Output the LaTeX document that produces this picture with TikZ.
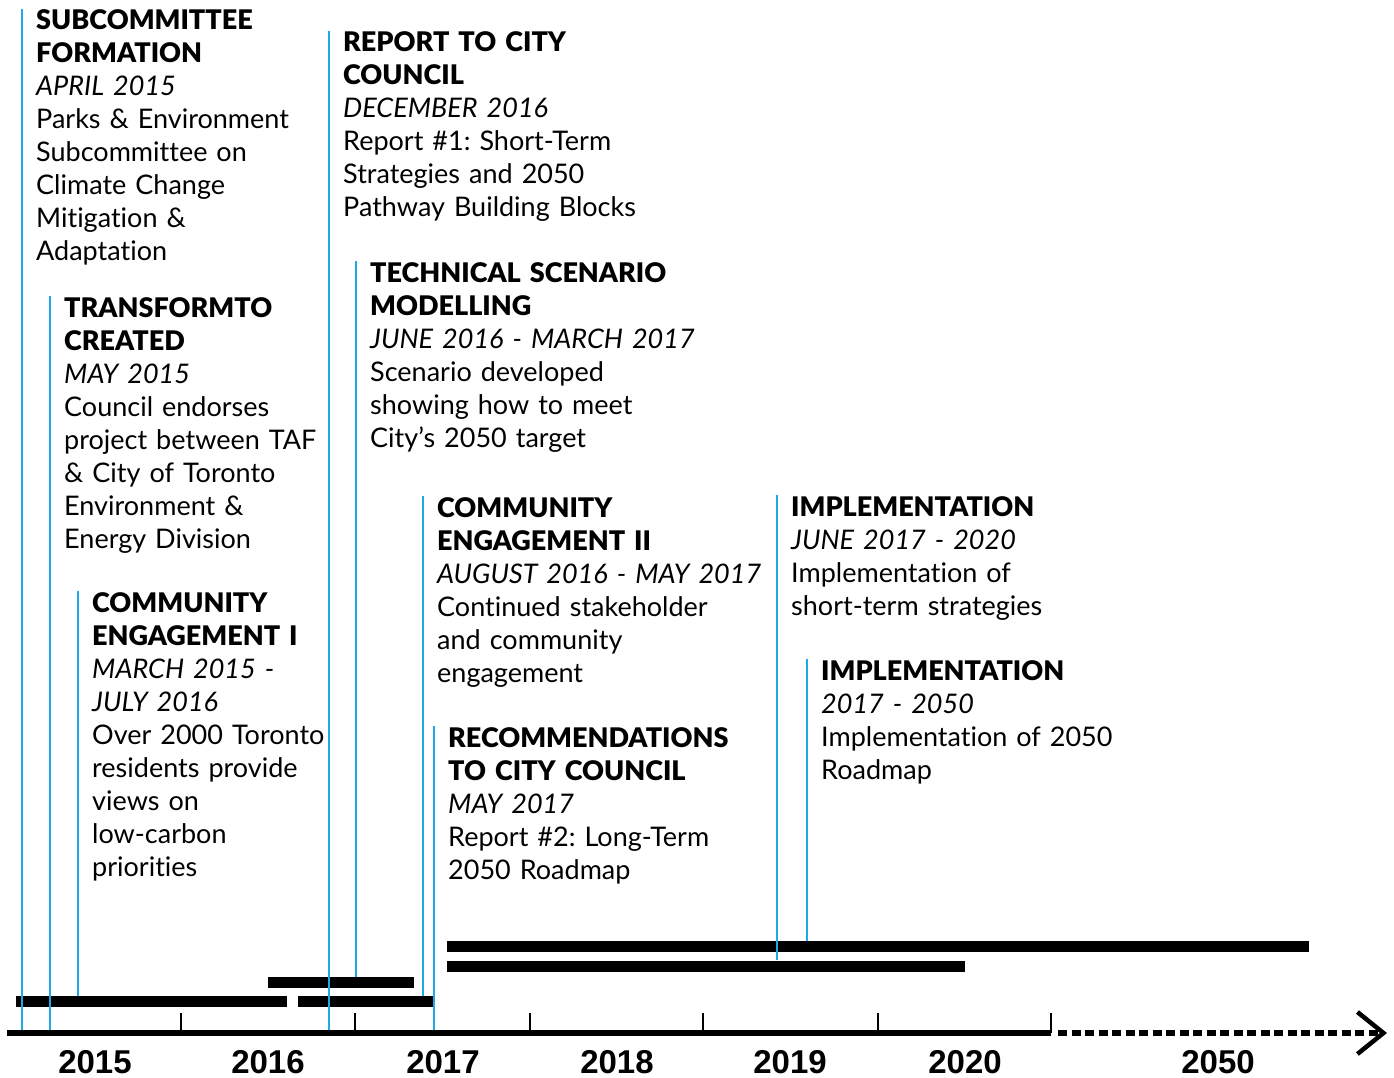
\documentclass[tikz,border=0pt]{standalone}
\usepackage{fontspec}
\setmainfont{Lato}[Ligatures=NoCommon, BoldFont={Lato Black}]
\newfontfamily\yearfont{Liberation Sans}
\usetikzlibrary{arrows.meta}
\frenchspacing

\definecolor{markblue}{RGB}{30,170,230}

\newcommand{\evt}[3]{\textbf{#1}\\\textit{#2}\\#3}

\tikzset{
  event/.style={anchor=base west, inner sep=0pt, text width=400pt, align=left,
    font=\fontsize{27}{33}\selectfont},
  mark line/.style={draw=markblue, line width=2pt},
  bar/.style={fill=black, inner sep=0pt, minimum height=11pt, anchor=west},
  axis line/.style={line width=5.5pt},
  dot line/.style={line width=5.5pt, dash pattern=on 9pt off 4.5pt},
  tick/.style={line width=2.2pt},
  year/.style={anchor=base, inner sep=0pt, font=\yearfont\bfseries\fontsize{33}{33}\selectfont},
}

\begin{document}
\begin{tikzpicture}[x=1pt, y=-1pt]
\useasboundingbox (0,0) rectangle (1394,1078);

% events
\node[event] (subcom) at (36,30) {\evt{SUBCOMMITTEE\\FORMATION}{APRIL 2015}{Parks \& Environment\\Subcommittee on\\Climate Change\\Mitigation \&\\Adaptation}};
\node[event] (transto) at (64,317) {\evt{TRANSFORMTO\\CREATED}{MAY 2015}{Council endorses\\project between TAF\\\& City of Toronto\\Environment \&\\Energy Division}};
\node[event] (engone) at (92,612) {\evt{COMMUNITY\\ENGAGEMENT I}{MARCH 2015 -\\JULY 2016}{Over 2000 Toronto\\residents provide\\views on\\low-carbon\\priorities}};
\node[event] (report) at (343,52) {\evt{REPORT TO CITY\\COUNCIL}{DECEMBER 2016}{Report \#1: Short-Term\\Strategies and 2050\\Pathway Building Blocks}};
\node[event] (techmod) at (370,282) {\evt{TECHNICAL SCENARIO\\MODELLING}{JUNE 2016 - MARCH 2017}{Scenario developed\\showing how to meet\\City’s 2050 target}};
\node[event] (engtwo) at (437,517) {\evt{COMMUNITY\\ENGAGEMENT II}{AUGUST 2016 - MAY 2017}{Continued stakeholder\\and community\\engagement}};
\node[event] (recomm) at (448,747) {\evt{RECOMMENDATIONS\\TO CITY COUNCIL}{MAY 2017}{Report \#2: Long-Term\\2050 Roadmap}};
\node[event] (implone) at (791,516) {\evt{IMPLEMENTATION}{JUNE 2017 - 2020}{Implementation of\\short-term strategies}};
\node[event] (impltwo) at (821,680) {\evt{IMPLEMENTATION}{2017 - 2050}{Implementation of 2050\\Roadmap}};

% bars
\node[bar, minimum width=271pt] (barA) at (16,1001.5) {};
\node[bar, minimum width=136pt] (barB) at (298,1001.5) {};
\node[bar, minimum width=146pt] (barC) at (268,982.5) {};
\node[bar, minimum width=862pt] (barD) at (447,946.5) {};
\node[bar, minimum width=518pt] (barE) at (447,966) {};

% axis
\coordinate (axisL) at (7,1033);
\coordinate (axisR) at (1051,1033);
\coordinate (dotL) at (1058,1033);
\coordinate (arrowtip) at (1387,1033);

% marker lines
\foreach \ev/\stop in {subcom/axisL, transto/axisL, engone/barA.north, report/axisL,
    techmod/barC.north, engtwo/barB.north, recomm/axisL, implone/barE.north, impltwo/barD.north}{
  \coordinate (\ev-t) at ([xshift=-14pt,yshift=1pt]\ev.north west);
  \draw[mark line] (\ev-t) -- (\ev-t |- \stop);
}

\draw[axis line] (axisL) -- (axisR);
\draw[dot line, -{Straight Barb[length=26pt, width=42pt, line width=4.5pt]}] (dotL) -- (arrowtip);
\foreach \tx in {181,355,530,703,878,1051}
  \draw[tick] (\tx,1033) -- (\tx,1013);

% years
\foreach \yr/\yx in {2015/95, 2016/268, 2017/443, 2018/617, 2019/790, 2020/965, 2050/1218}
  \node[year] (y\yr) at (\yx,1073) {\yr};
\end{tikzpicture}
\end{document}
